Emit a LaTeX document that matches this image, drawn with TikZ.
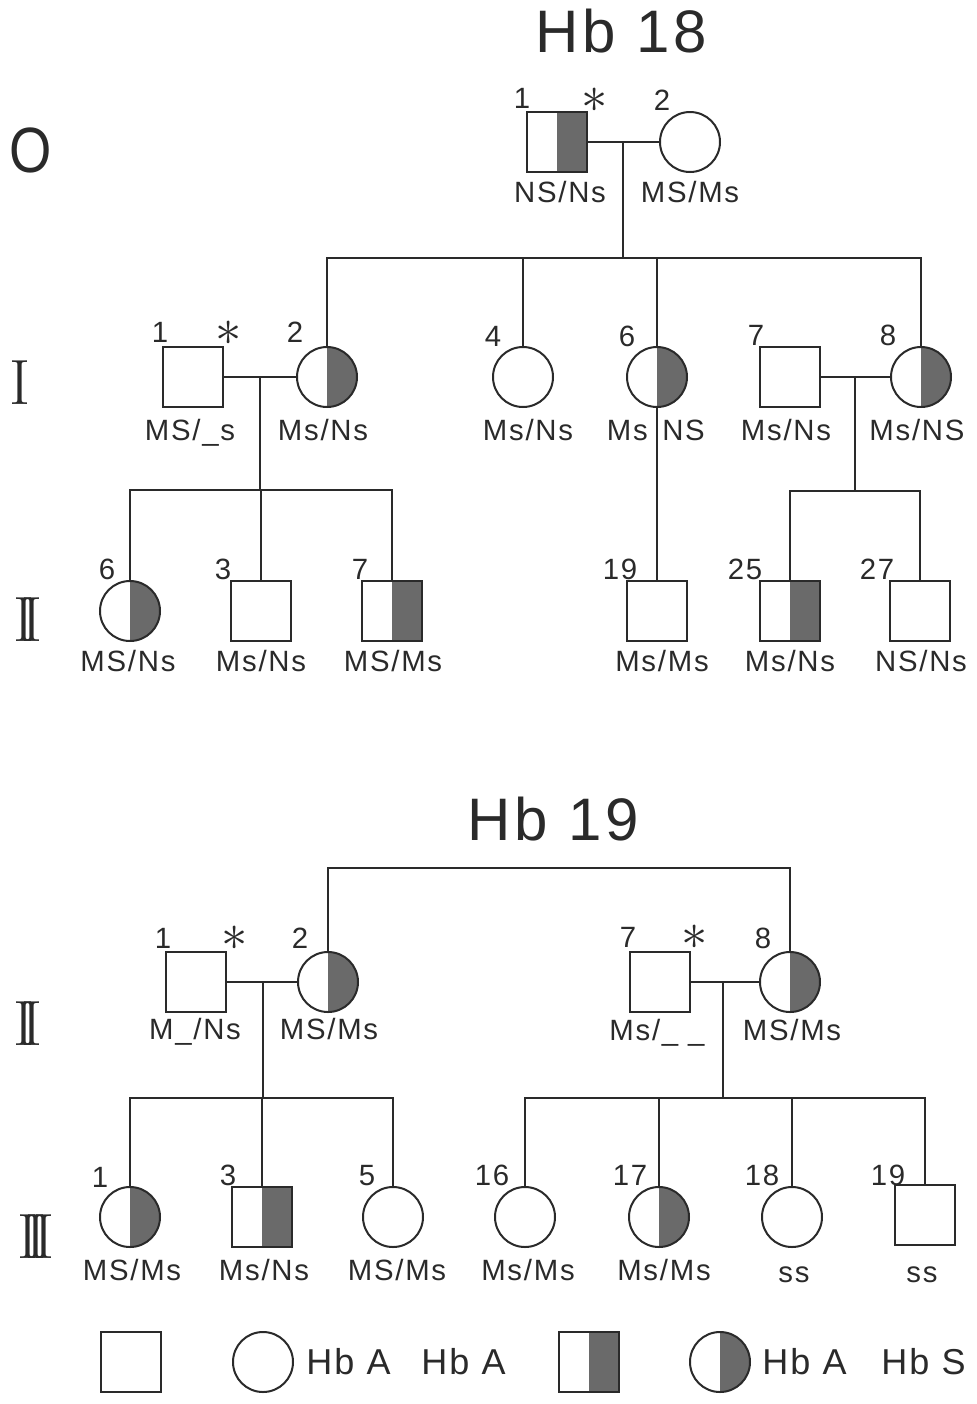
\documentclass[tikz,border=0pt]{standalone}
\usepackage{fontspec}
\usepackage{graphicx}
\newfontfamily\lab[LetterSpace=6]{Liberation Sans}
\newfontfamily\plainsans{Liberation Sans}
\newcommand{\bigast}{\scalebox{1.9}{$\ast$}}
\definecolor{ink}{HTML}{2A2A2A}
\definecolor{shd}{HTML}{6A6A6A}
\tikzset{
 ind/.style={draw=ink, line width=1.5pt, inner sep=0pt, minimum size=45pt},
 male/.style={ind, rectangle},
 female/.style={ind, circle},
 het/.style={path picture={\fill[shd] (path picture bounding box.north) rectangle (path picture bounding box.south east);}},
 ln/.style={draw=ink, line width=1.5pt},
 lbl/.style={font=\lab\fontsize{22}{22}\selectfont, text=ink, inner sep=0pt, text height=15.8pt, text depth=0pt},
 ast/.style={text=ink, inner sep=0pt, font=\fontsize{22}{22}\selectfont, text height=13pt, text depth=0pt, yshift=-4pt},
 gen/.style={text=ink, font=\fontsize{48}{48}\selectfont, inner sep=0pt, text height=32.8pt, text depth=0pt},
 ttl/.style={font=\lab\fontsize{45}{45}\selectfont, text=ink, inner sep=0pt, text height=32.2pt, text depth=0pt},
 leg/.style={font=\lab\fontsize{27}{27}\selectfont, text=ink, inner sep=0pt, text height=19.3pt, text depth=0pt, anchor=west},
}
\begin{document}
\begin{tikzpicture}[x=0.75pt,y=-0.75pt]
\useasboundingbox (0,0) rectangle (977,1404);

% titles
\node[ttl] (t18) at (621,31) {Hb 18};
\node[ttl] (t19) at (553,819) {Hb 19};

% generation labels
\node[gen] (gO) at (31,151) {\plainsans\scalebox{0.85}[1]{O}};
\node[gen] (gI) at (20,383) {I};
\node[gen] (gII) at (28,620) {I\kern-0.2em I};
\node[gen] (gIIb) at (28,1024) {I\kern-0.2em I};
\node[gen] (gIII) at (36,1237) {I\kern-0.2em I\kern-0.2em I};

% ===== Hb 18 =====
% generation O
\node[male,het] (o1) at (557,142) {};
\node[female] (o2) at (690,142) {};
\node[lbl] (o1n) at (522,98) {1};
\node[ast] (o1a) at (595,98) {\bigast};
\node[lbl] (o2n) at (662,100) {2};
\node[lbl] (o1g) at (560,192) {NS/Ns};
\node[lbl] (o2g) at (690,192) {MS/Ms};
\draw[ln] (o1.east) -- (o2.west);
\coordinate (mO) at (623,142);
\coordinate (sO) at (623,258);
\draw[ln] (mO) -- (sO);

% generation I
\node[male] (i1) at (193,377) {};
\node[female,het] (i2) at (327,377) {};
\node[female] (i4) at (523,377) {};
\node[female,het] (i6) at (657,377) {};
\node[male] (i7) at (790,377) {};
\node[female,het] (i8) at (921,377) {};
\node[lbl] (i1n) at (160,332) {1};
\node[ast] (i1a) at (229,331) {\bigast};
\node[lbl] (i2n) at (295,332) {2};
\node[lbl] (i4n) at (493,336) {4};
\node[lbl] (i6n) at (627,336) {6};
\node[lbl] (i7n) at (756,335) {7};
\node[lbl] (i8n) at (888,335) {8};
\node[lbl] (i1g) at (190,430) {MS/\_s};
\node[lbl] (i2g) at (323,430) {Ms/Ns};
\node[lbl] (i4g) at (528,430) {Ms/Ns};
\node[lbl,anchor=east] (i6g) at (648,430) {Ms};
\node[lbl,anchor=west] (i6h) at (662,430) {NS};
\node[lbl] (i7g) at (786,430) {Ms/Ns};
\node[lbl] (i8g) at (917,430) {Ms/NS};
\draw[ln] (i2.north) -- (i2.north|-sO) -- (i8.north|-sO) -- (i8.north);
\draw[ln] (i4.north) -- (i4.north|-sO);
\draw[ln] (i6.north) -- (i6.north|-sO);
\draw[ln] (i1.east) -- (i2.west);
\draw[ln] (i7.east) -- (i8.west);
\coordinate (mI1) at (260,377);
\coordinate (sI1) at (260,490);
\coordinate (mI2) at (855,377);
\coordinate (sI2) at (855,491);
\draw[ln] (mI1) -- (sI1);
\draw[ln] (mI2) -- (sI2);

% generation II
\node[female,het] (ii6) at (130,611) {};
\node[male] (ii3) at (261,611) {};
\node[male,het] (ii7) at (392,611) {};
\node[male] (ii19) at (657,611) {};
\node[male,het] (ii25) at (790,611) {};
\node[male] (ii27) at (920,611) {};
\node[lbl] (ii6n) at (107,569) {6};
\node[lbl] (ii3n) at (223,569) {3};
\node[lbl] (ii7n) at (360,569) {7};
\node[lbl] (ii19n) at (620,569) {19};
\node[lbl] (ii25n) at (745,569) {25};
\node[lbl] (ii27n) at (877,569) {27};
\node[lbl] (ii6g) at (128,661) {MS/Ns};
\node[lbl] (ii3g) at (261,661) {Ms/Ns};
\node[lbl] (ii7g) at (393,661) {MS/Ms};
\node[lbl] (ii19g) at (662,661) {Ms/Ms};
\node[lbl] (ii25g) at (790,661) {Ms/Ns};
\node[lbl] (ii27g) at (921,661) {NS/Ns};
\draw[ln] (ii6.north) -- (ii6.north|-sI1) -- (ii7.north|-sI1) -- (ii7.north);
\draw[ln] (ii3.north) -- (ii3.north|-sI1);
\draw[ln] (i6.south) -- (ii19.north);
\draw[ln] (ii25.north) -- (ii25.north|-sI2) -- (ii27.north|-sI2) -- (ii27.north);

% ===== Hb 19 =====
\node[male] (b1) at (196,982) {};
\node[female,het] (b2) at (328,982) {};
\node[male] (b7) at (660,982) {};
\node[female,het] (b8) at (790,982) {};
\node[lbl] (b1n) at (163,938) {1};
\node[ast] (b1a) at (235,936) {\bigast};
\node[lbl] (b2n) at (300,938) {2};
\node[lbl] (b7n) at (628,937) {7};
\node[ast] (b7a) at (695,935) {\bigast};
\node[lbl] (b8n) at (763,938) {8};
\node[lbl] (b1g) at (195,1029) {M\_/Ns};
\node[lbl] (b2g) at (329,1029) {MS/Ms};
\node[lbl] (b7g) at (657,1030) {Ms/\_ \_};
\node[lbl] (b8g) at (792,1030) {MS/Ms};
\coordinate (top) at (328,868);
\draw[ln] (b2.north) -- (b2.north|-top) -- (b8.north|-top) -- (b8.north);
\draw[ln] (b1.east) -- (b2.west);
\draw[ln] (b7.east) -- (b8.west);
\coordinate (mB1) at (263,982);
\coordinate (sB1) at (263,1098);
\coordinate (mB2) at (723,982);
\coordinate (sB2) at (723,1098);
\draw[ln] (mB1) -- (sB1);
\draw[ln] (mB2) -- (sB2);

% generation III
\node[female,het] (c1) at (130,1217) {};
\node[male,het] (c3) at (262,1217) {};
\node[female] (c5) at (393,1217) {};
\node[female] (c16) at (525,1217) {};
\node[female,het] (c17) at (659,1217) {};
\node[female] (c18) at (792,1217) {};
\node[male] (c19) at (925,1215) {};
\node[lbl] (c1n) at (100,1177) {1};
\node[lbl] (c3n) at (228,1175) {3};
\node[lbl] (c5n) at (367,1175) {5};
\node[lbl] (c16n) at (492,1175) {16};
\node[lbl] (c17n) at (630,1175) {17};
\node[lbl] (c18n) at (762,1175) {18};
\node[lbl] (c19n) at (888,1175) {19};
\node[lbl] (c1g) at (132,1270) {MS/Ms};
\node[lbl] (c3g) at (264,1270) {Ms/Ns};
\node[lbl] (c5g) at (397,1270) {MS/Ms};
\node[lbl] (c16g) at (528,1270) {Ms/Ms};
\node[lbl] (c17g) at (664,1270) {Ms/Ms};
\node[lbl] (c18g) at (794,1272) {ss};
\node[lbl] (c19g) at (922,1272) {ss};
\draw[ln] (c1.north) -- (c1.north|-sB1) -- (c5.north|-sB1) -- (c5.north);
\draw[ln] (c3.north) -- (c3.north|-sB1);
\draw[ln] (c16.north) -- (c16.north|-sB2) -- (c19.north|-sB2) -- (c19.north);
\draw[ln] (c17.north) -- (c17.north|-sB2);
\draw[ln] (c18.north) -- (c18.north|-sB2);

% ===== legend =====
\node[male] (k1) at (131,1362) {};
\node[female] (k2) at (263,1362) {};
\node[leg] (k2t) at (306,1362) {Hb A};
\node[leg] (k2u) at (421,1362) {Hb A};
\node[male,het] (k3) at (589,1362) {};
\node[female,het] (k4) at (720,1362) {};
\node[leg] (k4t) at (762,1362) {Hb A};
\node[leg] (k4u) at (881,1362) {Hb S};
\end{tikzpicture}
\end{document}
